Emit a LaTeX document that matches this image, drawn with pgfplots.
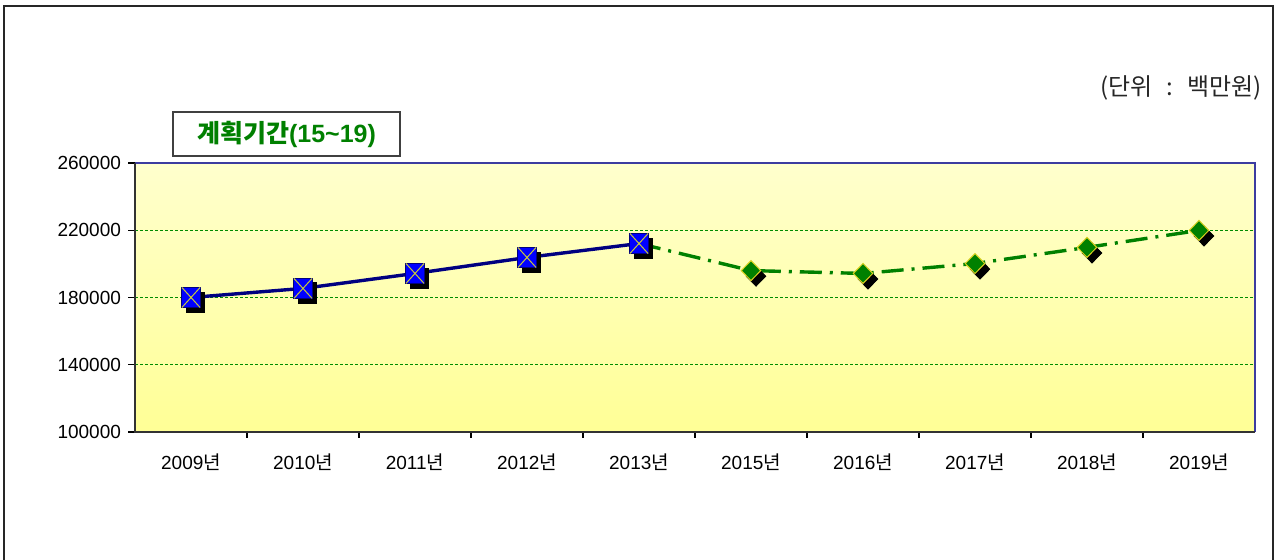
\documentclass[border=0pt]{standalone}
\usepackage{fontspec}
\setmainfont{Liberation Sans}
\newfontfamily\kr{Noto Sans CJK KR}
\usepackage{pgfplots}
\usepackage{pgfplotstable}
\pgfplotsset{compat=1.18}

\definecolor{navyln}{RGB}{0,0,128}
\definecolor{mkblue}{RGB}{0,0,255}
\definecolor{gr}{RGB}{0,128,0}
\definecolor{gridgr}{RGB}{0,140,0}
\definecolor{ytop}{RGB}{255,255,205}
\definecolor{ybot}{RGB}{255,255,150}
\definecolor{bordblue}{RGB}{60,60,160}
\definecolor{xyel}{RGB}{200,200,60}

\pgfplotstableread{
x y
0 180000
1 185400
2 194300
3 203800
4 212100
}\actual

\pgfplotstableread{
x y
4 212100
5 196000
6 194300
7 200200
8 209800
9 219900
}\plan

\pgfplotstableread{
x y
5 196000
6 194300
7 200200
8 209800
9 219900
}\planmarks

\begin{document}
\begin{tikzpicture}
\useasboundingbox (-67.5pt,-64pt) rectangle (571pt,216pt);
\draw[line width=1pt, black!85] (-65.5pt,-64pt) -- (-65.5pt,213pt) -- (569pt,213pt) -- (569pt,-64pt);

\begin{axis}[
  at={(0,0)}, anchor=south west,
  width=560pt, height=134.5pt, scale only axis,
  xmin=-0.5, xmax=9.5, ymin=100000, ymax=260000,
  xtick={0,...,9},
  xticklabels={2009{\kr 년},2010{\kr 년},2011{\kr 년},2012{\kr 년},2013{\kr 년},2015{\kr 년},2016{\kr 년},2017{\kr 년},2018{\kr 년},2019{\kr 년}},
  ytick={100000,140000,180000,220000,260000},
  scaled y ticks=false,
  yticklabel style={/pgf/number format/.cd, fixed, precision=0, 1000 sep={}},
  minor x tick num=1,
  tick align=outside,
  xtick pos=bottom, ytick pos=left,
  major x tick style={draw=none},
  minor x tick style={black, line width=0.6pt},
  major y tick style={black, line width=0.6pt},
  major tick length=3.5pt, minor tick length=3pt,
  ymajorgrids,
  major grid style={gridgr, dash pattern=on 1.5pt off 1pt, line width=0.7pt},
  axis line style={draw=none},
  axis background/.style={top color=ytop, bottom color=ybot},
  /pgf/number format/.cd, 1000 sep={}, assume math mode=true,
  /pgfplots/.cd,
  tick label style={font=\fontsize{9.5}{11}\selectfont, black},
  xticklabel style={yshift=-4pt},
  clip=false,
]
% shadows
\addplot[only marks, mark=square*, mark size=4.6pt, black,
  mark options={xshift=2.3pt, yshift=-2.3pt, yscale=1.1}] table {\actual};
\addplot[only marks, mark=diamond*, mark size=5pt, black,
  mark options={xshift=2.5pt, yshift=-2.8pt, xscale=1.3}] table {\planmarks};
% plan line
\addplot[gr, line width=1.7pt, dash pattern=on 11pt off 4pt on 1.5pt off 4pt] table {\plan};
% actual line
\addplot[navyln, line width=1.7pt, mark=square*, mark size=4.6pt,
  mark options={solid, fill=mkblue, draw=navyln, line width=0.4pt, yscale=1.1}] table {\actual};
\addplot[only marks, mark=x, mark size=6.4pt,
  mark options={draw=xyel, line width=0.5pt, yscale=1.1}] table {\actual};
% plan markers
\addplot[only marks, mark=diamond*, mark size=5pt,
  mark options={fill=gr, draw=yellow!85!black, line width=0.5pt, xscale=1.3}] table {\planmarks};

\draw[line width=1pt, bordblue] (rel axis cs:0,1) -- (rel axis cs:1,1) -- (rel axis cs:1,0);
\draw[line width=1pt, black!80] (rel axis cs:1,0) -- (rel axis cs:0,0) -- (rel axis cs:0,1);
\end{axis}

\node[draw=black!75, fill=white, line width=0.6pt, minimum width=113.5pt, minimum height=22pt,
  inner sep=0pt, text=gr, font=\fontsize{12.5}{14}\selectfont\bfseries]
  at (75.75pt,149pt) {{\kr 계획기간}(15\char`\~19)};
\node[anchor=east, inner sep=0pt, font=\fontsize{12}{14}\selectfont\kr, black!85]
  at (563.5pt,172pt) {(단위\hspace{7pt}:\hspace{7pt}백만원)};
\end{tikzpicture}
\end{document}
